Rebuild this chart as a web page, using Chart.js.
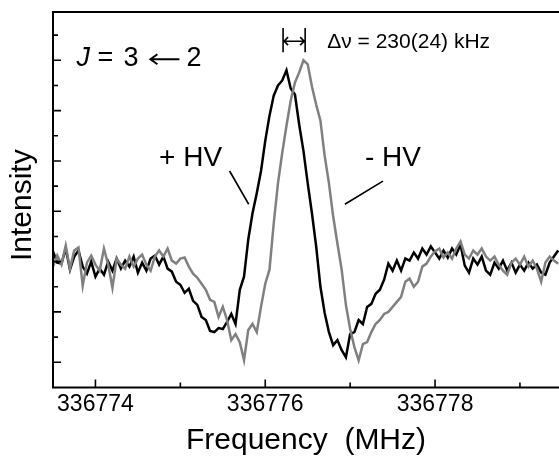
<!DOCTYPE html>
<html>
<head>
<meta charset="utf-8">
<script src="https://cdn.jsdelivr.net/npm/chart.js@4.4.1/dist/chart.umd.min.js"></script>
<style>
html,body{margin:0;padding:0;background:#fff;overflow:hidden;}
#wrap{width:559px;height:456px;}
</style>
</head>
<body>
<div id="wrap"><canvas id="c" width="559" height="456"></canvas></div>
<script>
// Frequency grid (MHz)
const freqMHz = [
336773.50,336773.55,336773.60,336773.65,336773.70,336773.75,336773.80,336773.85,336773.90,336773.95,
336774.00,336774.05,336774.10,336774.15,336774.20,336774.25,336774.30,336774.35,336774.40,336774.45,
336774.50,336774.55,336774.60,336774.65,336774.70,336774.75,336774.80,336774.85,336774.90,336774.95,
336775.00,336775.05,336775.10,336775.15,336775.20,336775.25,336775.30,336775.35,336775.40,336775.45,
336775.50,336775.55,336775.60,336775.65,336775.70,336775.75,336775.80,336775.85,336775.90,336775.95,
336776.00,336776.05,336776.10,336776.15,336776.20,336776.25,336776.30,336776.35,336776.40,336776.45,
336776.50,336776.55,336776.60,336776.65,336776.70,336776.75,336776.80,336776.85,336776.90,336776.95,
336777.00,336777.05,336777.10,336777.15,336777.20,336777.25,336777.30,336777.35,336777.40,336777.45,
336777.50,336777.55,336777.60,336777.65,336777.70,336777.75,336777.80,336777.85,336777.90,336777.95,
336778.00,336778.05,336778.10,336778.15,336778.20,336778.25,336778.30,336778.35,336778.40,336778.45,
336778.50,336778.55,336778.60,336778.65,336778.70,336778.75,336778.80,336778.85,336778.90,336778.95,
336779.00,336779.05,336779.10,336779.15,336779.20,336779.25,336779.30,336779.35,336779.40,336779.45
];
// Intensity (arb. units), + HV (black)
const plusHV = [
13.5,12.4,12.3,13.8,11.7,13.0,13.6,12.0,11.3,12.5,
11.0,11.8,11.2,12.5,11.6,12.8,11.8,12.6,12.0,13.0,
11.4,12.4,11.6,12.8,13.1,12.2,13.0,11.8,11.5,10.5,
10.2,9.4,9.8,8.6,8.2,7.0,6.7,5.6,5.5,5.9,
5.8,6.5,7.3,6.3,9.7,11.0,14.7,17.3,19.3,21.5,
24.5,27.0,29.0,30.0,30.5,31.5,29.7,29.1,26.1,23.5,
20.3,17.3,14.0,10.0,7.4,5.5,4.2,4.7,3.7,3.0,
5.3,5.5,6.7,6.3,8.0,8.3,9.3,9.7,10.7,12.3,
11.6,12.6,11.6,12.8,12.6,13.4,12.8,13.8,13.2,14.0,
13.4,12.8,13.6,12.9,13.8,13.2,14.2,12.1,11.4,12.8,
12.2,13.0,11.6,11.2,12.4,11.8,12.6,11.6,12.4,11.4,
12.2,11.6,12.4,11.8,12.2,11.4,11.2,12.4,13.0,13.6
];
// Intensity (arb. units), - HV (grey)
const minusHV = [
12.0,13.1,12.2,14.1,11.8,13.6,13.9,10.1,12.4,13.1,
12.2,11.6,13.8,12.2,9.9,12.8,12.2,11.8,13.0,12.0,
12.8,13.2,12.2,11.6,13.0,13.6,13.0,13.8,12.6,12.3,
12.8,12.9,12.0,11.3,10.9,10.3,9.7,8.7,8.5,7.0,
8.0,6.7,4.7,5.3,4.5,2.7,5.7,6.3,5.5,8.0,
10.3,11.7,16.3,20.3,23.3,26.0,28.5,30.3,31.3,32.5,
32.1,29.9,28.1,26.5,23.0,20.3,17.0,14.3,11.7,8.2,
5.8,4.0,2.7,4.3,4.5,5.5,6.3,6.7,7.3,7.5,
8.0,8.5,9.0,10.5,10.8,10.0,10.5,12.0,12.3,13.0,
13.5,13.8,12.9,13.4,12.8,13.8,14.5,13.2,12.8,13.6,
13.2,13.8,13.0,12.6,13.0,12.2,11.6,11.2,12.4,12.8,
12.2,13.0,12.0,12.6,11.8,10.5,12.4,13.0,12.6,12.3
];
const xTickLabels = [336774, 336776, 336778];
const xMinorTicks = [336775, 336777, 336779];
const yMajorTicks = [2.5, 7.5, 12.5, 17.5, 22.5, 27.5, 32.5];
const yMinorTicks = [5, 10, 15, 20, 25, 30, 35];
const peakMarks = [336776.21, 336776.47];

const FONT = "'Liberation Sans', Arial, Helvetica, sans-serif";

const toPts = arr => arr.map((v, i) => ({x: freqMHz[i], y: v}));

const decor = {
  id: 'decor',
  afterDraw(chart) {
    const {ctx, chartArea: a, scales: {x, y}} = chart;
    ctx.save();
    ctx.strokeStyle = '#000';
    ctx.lineWidth = 2;
    ctx.lineCap = 'butt';
    // frame (left, top, bottom; right side cropped)
    ctx.beginPath();
    ctx.moveTo(chart.width, a.top);
    ctx.lineTo(a.left, a.top);
    ctx.lineTo(a.left, a.bottom);
    ctx.lineTo(chart.width, a.bottom);
    ctx.stroke();
    // inward ticks
    ctx.lineWidth = 1.6;
    ctx.beginPath();
    xTickLabels.forEach(v => { const px = x.getPixelForValue(v); ctx.moveTo(px, a.bottom); ctx.lineTo(px, a.bottom - 8); });
    xMinorTicks.forEach(v => { const px = x.getPixelForValue(v); ctx.moveTo(px, a.bottom); ctx.lineTo(px, a.bottom - 5); });
    yMajorTicks.forEach(v => { const py = y.getPixelForValue(v); ctx.moveTo(a.left, py); ctx.lineTo(a.left + 8, py); });
    yMinorTicks.forEach(v => { const py = y.getPixelForValue(v); ctx.moveTo(a.left, py); ctx.lineTo(a.left + 5, py); });
    ctx.stroke();

    // leader lines
    ctx.lineWidth = 1.6;
    ctx.beginPath();
    ctx.moveTo(x.getPixelForValue(336775.58), y.getPixelForValue(21.5));
    ctx.lineTo(x.getPixelForValue(336775.805), y.getPixelForValue(18.2));
    ctx.moveTo(x.getPixelForValue(336777.386), y.getPixelForValue(20.5));
    ctx.lineTo(x.getPixelForValue(336776.938), y.getPixelForValue(18.2));
    ctx.stroke();

    // delta-nu marker
    const x1 = x.getPixelForValue(peakMarks[0]), x2 = x.getPixelForValue(peakMarks[1]);
    const yt = y.getPixelForValue(35.7), yb = y.getPixelForValue(33.3), ym = y.getPixelForValue(34.4);
    ctx.lineWidth = 1.6;
    ctx.beginPath();
    ctx.moveTo(x1, yt); ctx.lineTo(x1, yb);
    ctx.moveTo(x2, yt); ctx.lineTo(x2, yb);
    ctx.moveTo(x1 + 1, ym); ctx.lineTo(x2 - 1, ym);
    ctx.moveTo(x1 + 5, ym - 4); ctx.lineTo(x1 + 1, ym); ctx.lineTo(x1 + 5, ym + 4);
    ctx.moveTo(x2 - 5, ym - 4); ctx.lineTo(x2 - 1, ym); ctx.lineTo(x2 - 5, ym + 4);
    ctx.stroke();

    // texts
    ctx.fillStyle = '#000';
    ctx.textBaseline = 'middle';
    ctx.textAlign = 'left';
    ctx.font = '21px ' + FONT;
    ctx.fillText('\u0394\u03bd = 230(24) kHz', x.getPixelForValue(336776.73), y.getPixelForValue(34.3));

    ctx.font = '28px ' + FONT;
    ctx.textAlign = 'center';
    ctx.fillText('+ HV', x.getPixelForValue(336775.121), y.getPixelForValue(22.8));
    ctx.fillText('- HV', x.getPixelForValue(336777.504), y.getPixelForValue(22.8));

    // J = 3 <- 2
    ctx.textAlign = 'left';
    const j0 = x.getPixelForValue(336773.776);
    const jy = y.getPixelForValue(32.7);
    ctx.font = 'italic 27px ' + FONT;
    ctx.fillText('J', j0, jy);
    ctx.font = '27px ' + FONT;
    ctx.fillText('=', j0 + 21, jy);
    ctx.fillText('3', j0 + 47, jy);
    ctx.fillText('2', j0 + 110, jy);
    // arrow
    const ax0 = j0 + 74, ax1 = j0 + 103, ay = jy + 1;
    ctx.lineWidth = 2;
    ctx.beginPath();
    ctx.moveTo(ax0 + 1, ay); ctx.lineTo(ax1, ay);
    ctx.moveTo(ax0 + 7, ay - 5); ctx.lineTo(ax0, ay); ctx.lineTo(ax0 + 7, ay + 5);
    ctx.stroke();

    // y-axis title
    ctx.save();
    ctx.translate(23, y.getPixelForValue(18.1));
    ctx.rotate(-Math.PI / 2);
    ctx.textAlign = 'center';
    ctx.font = '30px ' + FONT;
    ctx.fillText('Intensity', 0, 0);
    ctx.restore();
    ctx.restore();
  }
};

new Chart(document.getElementById('c'), {
  type: 'line',
  data: {
    datasets: [
      { label: '- HV', data: toPts(minusHV), borderColor: '#808080', borderWidth: 2.5, pointRadius: 0, tension: 0, fill: false },
      { label: '+ HV', data: toPts(plusHV), borderColor: '#000000', borderWidth: 2.5, pointRadius: 0, tension: 0, fill: false }
    ]
  },
  options: {
    responsive: false,
    animation: false,
    devicePixelRatio: 1,
    layout: { padding: { left: 53, right: 0, top: 12, bottom: -3 } },
    plugins: { legend: { display: false }, tooltip: { enabled: false } },
    scales: {
      x: {
        type: 'linear',
        min: 336773.5,
        max: 336779.46,
        afterBuildTicks: axis => { axis.ticks = xTickLabels.map(v => ({ value: v })); },
        grid: { display: false, drawTicks: false },
        border: { display: false },
        ticks: { color: '#000', font: { family: FONT, size: 23 }, padding: 3, maxRotation: 0, autoSkip: false, callback: v => String(v) },
        title: { display: true, text: 'Frequency  (MHz)', color: '#000', font: { family: FONT, size: 30 }, padding: { top: 2, bottom: 0 } }
      },
      y: {
        min: 0,
        max: 37.3,
        grid: { display: false, drawTicks: false },
        border: { display: false },
        ticks: { display: false },
        title: { display: false }
      }
    }
  },
  plugins: [decor]
});
</script>
</body>
</html>
